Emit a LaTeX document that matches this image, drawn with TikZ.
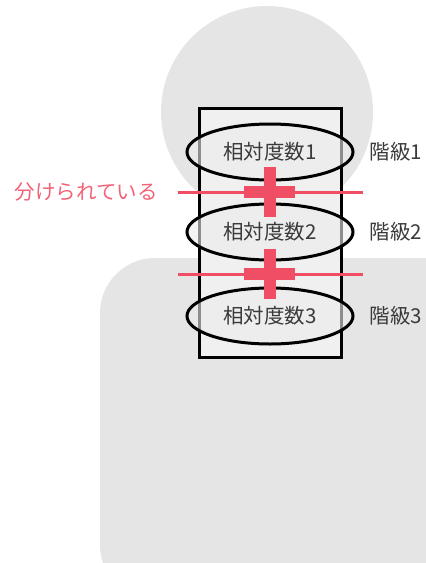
\documentclass[tikz,border=0pt]{standalone}
\usepackage{fontspec}
\setmainfont{Noto Sans CJK JP}
\usetikzlibrary{shapes.geometric, positioning, calc}
\definecolor{silhouette}{HTML}{E5E5E5}
\definecolor{cutred}{HTML}{F04E64}
\definecolor{inkgray}{HTML}{3A3A3A}
\tikzstyle{freq} = [ellipse, draw, line width=3pt, minimum width=166pt, minimum height=56pt,
  fill=gray!15, fill opacity=0.6, text opacity=1, text=inkgray]
\tikzstyle{classlabel} = [text=inkgray]
\tikzstyle{cut} = [cutred, line width=3pt]
\tikzstyle{cross} = [cutred, line width=12pt]

\begin{document}
\begin{tikzpicture}[x=1pt, y=-1pt,
  every node/.style={inner sep=3pt, font=\fontsize{20.5}{24}\selectfont}]
  \useasboundingbox (0,0) rectangle (426,563);

  % person in the background
  \fill[silhouette] (267,112) circle (106pt);
  \fill[silhouette, rounded corners=55pt] (100,258) rectangle (480,600);

  % the column of classes
  \draw[line width=3pt, fill=gray!12] (199,108) rectangle (341,357);
  \node[freq] (f1) at (270,152) {相対度数1};
  \node[freq] (f2) at (270,232) {相対度数2};
  \node[freq] (f3) at (270,316) {相対度数3};
  \node[classlabel, right=12pt of f1] (c1) {階級1};
  \node[classlabel, right=12pt of f2] (c2) {階級2};
  \node[classlabel, right=12pt of f3] (c3) {階級3};

  % cuts between the classes
  \coordinate (s1) at ($(f1)!0.5!(f2)$);
  \coordinate (s2) at ($(f2)!0.5!(f3)$);
  \foreach \s in {s1, s2} {
    \draw[cut] ([xshift=-92pt]\s) coordinate (\s l) -- ([xshift=93pt]\s);
    \draw[cross] ([xshift=-26pt]\s) -- ([xshift=25pt]\s);
    \draw[cross] ([yshift=-25pt]\s) -- ([yshift=25pt]\s);
  }
  \node[text=cutred!88!white, left=17pt of s1l] (sep) {分けられている};
\end{tikzpicture}
\end{document}
